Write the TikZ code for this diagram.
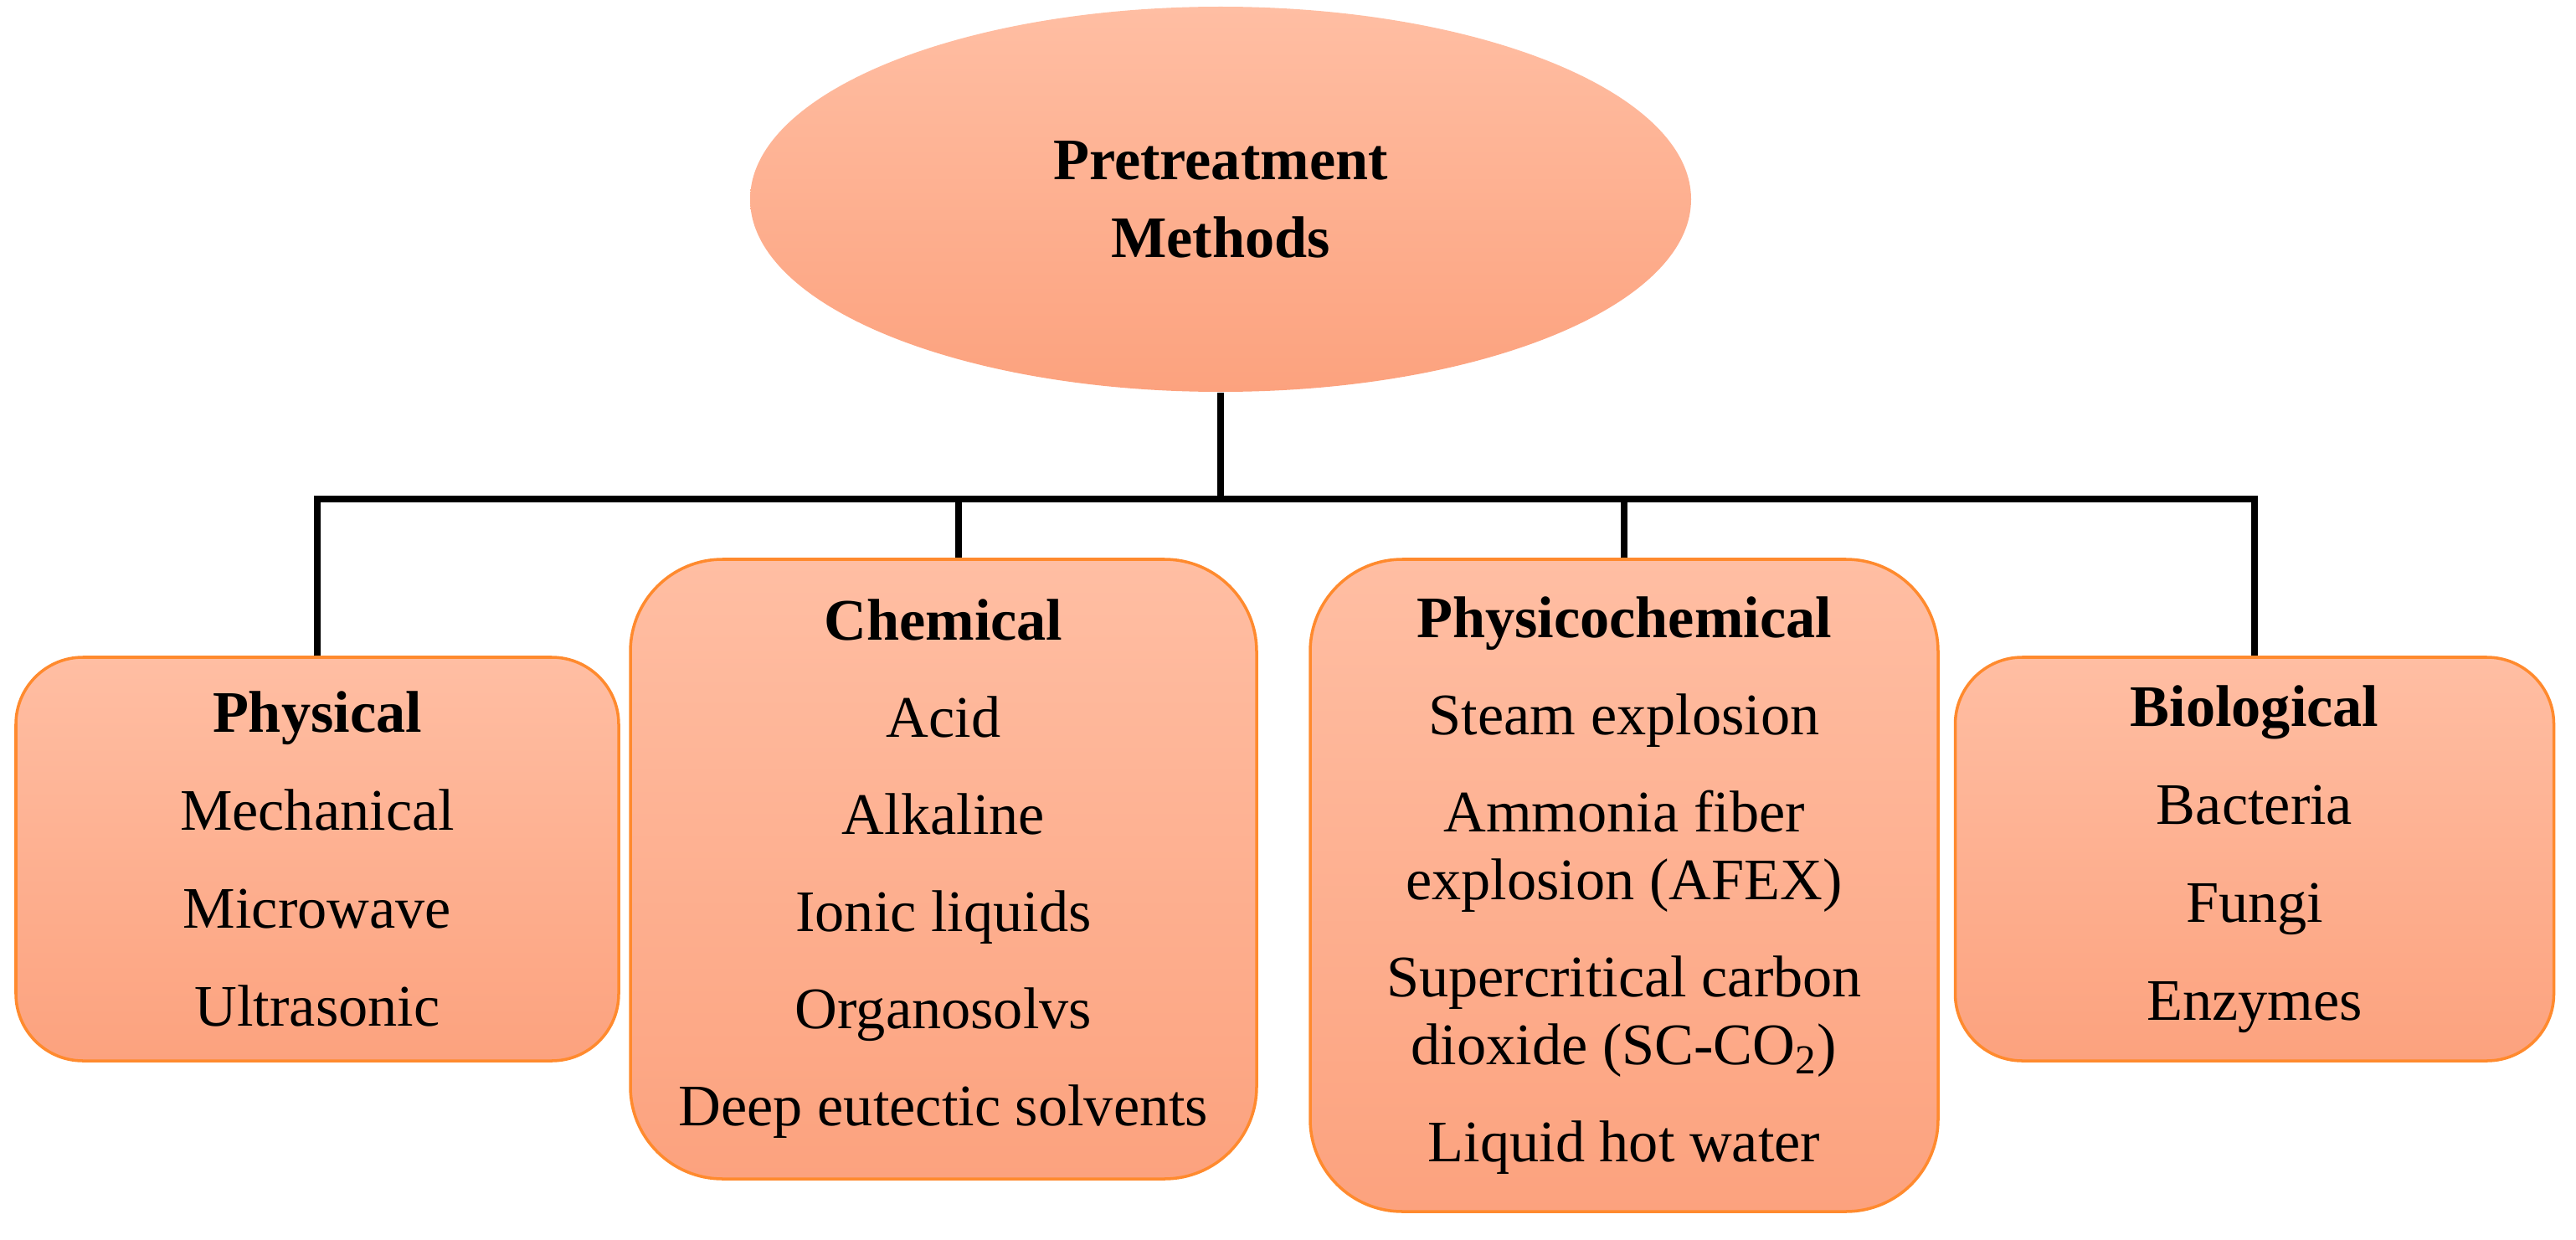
\documentclass[tikz,border=0pt]{standalone}
\usepackage{fontspec}
\setmainfont{Liberation Serif}
\usetikzlibrary{shapes.geometric,positioning}

\definecolor{salmontop}{RGB}{255,190,163}
\definecolor{salmonbot}{RGB}{252,162,126}
\definecolor{boxedge}{RGB}{255,138,46}

\begin{document}
\begin{tikzpicture}[x=1cm, y=1cm,
  every node/.style={font=\fontsize{20}{23}\selectfont},
  methodbox/.style={rectangle, rounded corners=#1, draw=boxedge, line width=1pt,
    top color=salmontop, bottom color=salmonbot, align=center, inner sep=0pt},
  methodbox/.default=0.8cm,
  link/.style={line width=2.3pt, black}]
  \useasboundingbox (0,0) rectangle (30.77,-14.81);

  % Ellipse (en haut)
  \node[ellipse, top color=salmontop, bottom color=salmonbot, minimum width=11.24cm,
    minimum height=4.6cm, inner sep=0pt, align=center, font=\fontsize{20}{26.5}\selectfont\bfseries]
    (root) at (14.58,-2.38) {Pretreatment\\Methods};

  % Boites des methodes
  \node[methodbox, minimum width=7.20cm, minimum height=4.82cm] (phys) at (3.79,-10.26)
    {\textbf{Physical}\\[10.3pt]Mechanical\\[10.3pt]Microwave\\[10.3pt]Ultrasonic};
  \node[methodbox=1.1cm, minimum width=7.48cm, minimum height=7.40cm] (chem) at (11.27,-10.38)
    {\textbf{Chemical}\\[10pt]Acid\\[10pt]Alkaline\\[10pt]Ionic liquids\\[10pt]Organosolvs\\[10pt]Deep eutectic solvents};
  \node[methodbox=1.1cm, minimum width=7.50cm, minimum height=7.79cm] (phch) at (19.40,-10.575)
    {\textbf{Physicochemical}\\[10pt]Steam explosion\\[10pt]Ammonia fiber\\explosion (AFEX)\\[10pt]Supercritical carbon\\dioxide (SC-CO\textsubscript{2})\\[10pt]Liquid hot water};
  \node[methodbox, minimum width=7.15cm, minimum height=4.82cm] (bio) at (26.93,-10.26)
    {\textbf{Biological}\\[10.3pt]Bacteria\\[10.3pt]Fungi\\[10.3pt]Enzymes};

  % Connecteurs
  \coordinate (bar) at (14.58,-5.96);
  \coordinate (chemtop) at ([xshift=0.18cm]chem.north);
  \draw[link] (root.south) -- (bar);
  \draw[link] (phys.north) |- (bar) -| (bio.north);
  \draw[link] (chemtop) -- (chemtop |- bar);
  \draw[link] (phch.north) -- (phch.north |- bar);
\end{tikzpicture}
\end{document}
